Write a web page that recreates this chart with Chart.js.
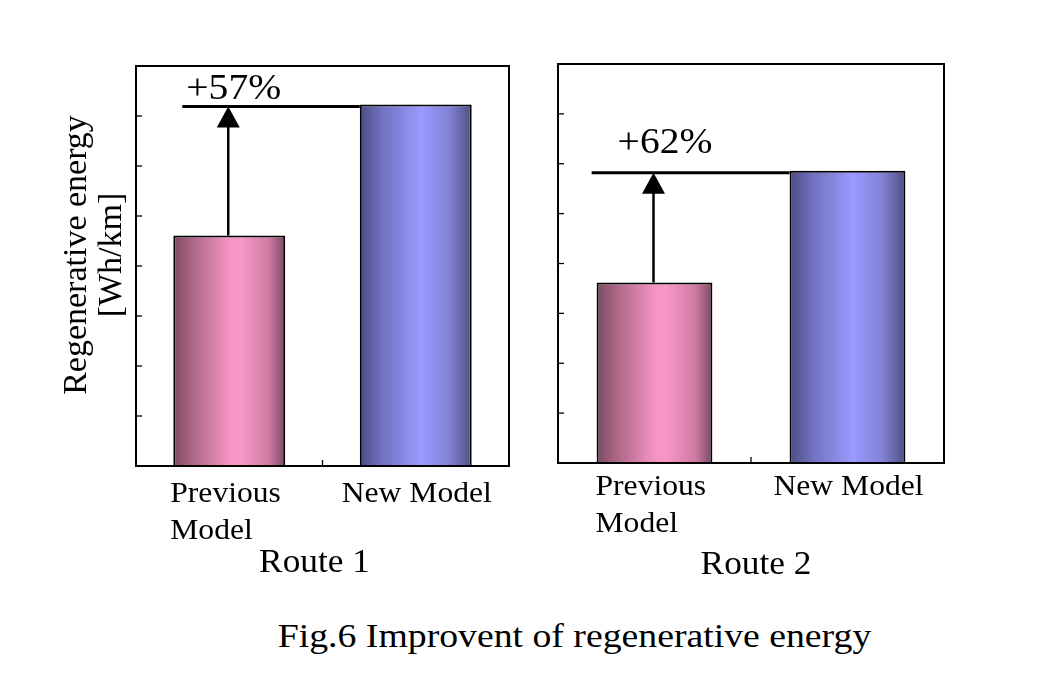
<!DOCTYPE html>
<html>
<head>
<meta charset="utf-8">
<script src="https://cdn.jsdelivr.net/npm/chart.js@4.4.0/dist/chart.umd.min.js"></script>
<style>
    body { margin: 0; background: #fff; width: 1047px; height: 697px; position: relative; overflow: hidden;
           font-family: 'Liberation Serif', 'Times New Roman', serif; }
    #route1 { position: absolute; left: 0; top: 0; }
    #route2 { position: absolute; left: 540px; top: 0; }
    #caption { position: absolute; left: 0; width: 1149px; top: 619px; text-align: center;
               font-size: 34px; line-height: 34px; color: #000; transform: scaleX(1.11); }
</style>
</head>
<body>
<canvas id="route1" width="540" height="600"></canvas>
<canvas id="route2" width="507" height="600"></canvas>
<div id="caption">Fig.6 Improvent of regenerative energy</div>
<script>
// data (axis has no numbers, one unit = one tick step)
const categories = ['Previous Model', 'New Model'];
const route1Values = [4.61, 7.23];
const route2Values = [3.62, 5.86];
const gainLabels = ['+57%', '+62%'];
const routeTitles = ['Route 1', 'Route 2'];
const yTicks = [1, 2, 3, 4, 5, 6, 7];
const yMax = 8;

const FONT = "'Liberation Serif', 'Times New Roman', serif";
const pinkStops = [[0, '#7a4862'], [0.14, '#a4627f'], [0.5, '#f693c4'], [0.6, '#f898c8'], [0.85, '#cf7aa3'], [1, '#7c4a64']];
const blueStops = [[0, '#4c4c84'], [0.2, '#7272c0'], [0.55, '#9a9aff'], [0.8, '#8282d6'], [1, '#4e4e80']];

function barGradient(context) {
    const chart = context.chart;
    const stops = context.dataIndex === 0 ? pinkStops : blueStops;
    if (!chart.chartArea) return stops[3][1];
    const xs = chart.scales.x;
    const c = xs.getPixelForValue(context.dataIndex);
    const w = xs.width / categories.length * 0.6;
    const g = chart.ctx.createLinearGradient(c - w / 2, 0, c + w / 2, 0);
    stops.forEach(function(s) { g.addColorStop(s[0], s[1]); });
    return g;
}

// the source text is a little wider than Liberation Serif, so stretch it
function wideText(ctx, text, x, y, sx) {
    ctx.save();
    ctx.translate(x, y);
    ctx.scale(sx, 1);
    ctx.fillText(text, 0, 0);
    ctx.restore();
}

const decoPlugin = {
    id: 'deco',
    afterDatasetsDraw(chart, args, o) {
        const ctx = chart.ctx, a = chart.chartArea;
        const xs = chart.scales.x, ys = chart.scales.y;
        const vals = chart.data.datasets[0].data;
        ctx.save();
        ctx.strokeStyle = '#000';
        ctx.fillStyle = '#000';

        // frame and inner ticks
        ctx.lineWidth = 2;
        ctx.strokeRect(a.left, a.top, a.width, a.height);
        ctx.lineWidth = 1.3;
        yTicks.forEach(function(v) {
            const py = ys.getPixelForValue(v);
            ctx.beginPath(); ctx.moveTo(a.left, py); ctx.lineTo(a.left + 6, py); ctx.stroke();
        });
        const mid = (xs.getPixelForValue(0) + xs.getPixelForValue(1)) / 2;
        ctx.beginPath(); ctx.moveTo(mid, a.bottom); ctx.lineTo(mid, a.bottom - 6); ctx.stroke();

        // gain arrow
        const bw = xs.width / categories.length * 0.6;
        const p0 = xs.getPixelForValue(0), p1 = xs.getPixelForValue(1);
        const yPrev = ys.getPixelForValue(vals[0]);
        const yNew = ys.getPixelForValue(vals[1]) + 2;
        const lineStart = p0 - bw / 2 + o.lineDx;
        ctx.lineWidth = 3;
        ctx.beginPath(); ctx.moveTo(lineStart, yNew); ctx.lineTo(p1 - bw / 2, yNew); ctx.stroke();
        const ax = p0 - 1;
        ctx.lineWidth = 2.5;
        ctx.beginPath(); ctx.moveTo(ax, yPrev); ctx.lineTo(ax, yNew + 18); ctx.stroke();
        ctx.beginPath();
        ctx.moveTo(ax, yNew);
        ctx.lineTo(ax - 11.5, yNew + 21);
        ctx.lineTo(ax + 11.5, yNew + 21);
        ctx.closePath(); ctx.fill();

        ctx.font = '35px ' + FONT;
        ctx.textAlign = 'left';
        ctx.textBaseline = 'alphabetic';
        wideText(ctx, o.gain, lineStart + o.gainDx, yNew - o.gainDy, 1.13);

        // category labels
        ctx.font = '29px ' + FONT;
        wideText(ctx, 'Previous', p0 - 59, a.bottom + o.labelY[0], 1.09);
        wideText(ctx, 'Model', p0 - 59, a.bottom + o.labelY[1], 1.09);
        ctx.textAlign = 'center';
        wideText(ctx, categories[1], p1 + 1, a.bottom + o.labelY[0], 1.09);

        // route title
        ctx.font = '33px ' + FONT;
        wideText(ctx, o.route, (a.left + a.right) / 2 + o.routeDx, a.bottom + o.routeY, 1.07);

        // y axis title
        if (o.yTitle) {
            ctx.font = '34px ' + FONT;
            ctx.textBaseline = 'middle';
            [['Regenerative energy', 77], ['[Wh/km]', 112]].forEach(function(t) {
                ctx.save();
                ctx.translate(t[1], 255);
                ctx.rotate(-Math.PI / 2);
                ctx.fillText(t[0], 0, 0);
                ctx.restore();
            });
        }
        ctx.restore();
    }
};

function makeChart(id, values, padding, deco) {
    return new Chart(document.getElementById(id), {
        type: 'bar',
        data: {
            labels: categories,
            datasets: [{
                data: values,
                backgroundColor: barGradient,
                borderColor: '#000',
                borderWidth: 2,
                barPercentage: 0.6,
                categoryPercentage: 1.0
            }]
        },
        options: {
            responsive: false,
            animation: false,
            layout: { padding: padding },
            scales: {
                x: { display: false },
                y: { display: false, min: 0, max: yMax }
            },
            plugins: {
                legend: { display: false },
                tooltip: { enabled: false },
                deco: deco
            }
        },
        plugins: [decoPlugin]
    });
}

makeChart('route1', route1Values,
    { left: 136, top: 66, right: 31, bottom: 134 },
    { gain: gainLabels[0], route: routeTitles[0], lineDx: 9, gainDx: 4, gainDy: 8,
      labelY: [36, 73], routeY: 106, routeDx: -8, yTitle: true });

makeChart('route2', route2Values,
    { left: 18, top: 64, right: 103, bottom: 137 },
    { gain: gainLabels[1], route: routeTitles[1], lineDx: -5, gainDx: 26, gainDy: 20,
      labelY: [32, 69], routeY: 111, routeDx: 5, yTitle: false });
</script>
</body>
</html>
